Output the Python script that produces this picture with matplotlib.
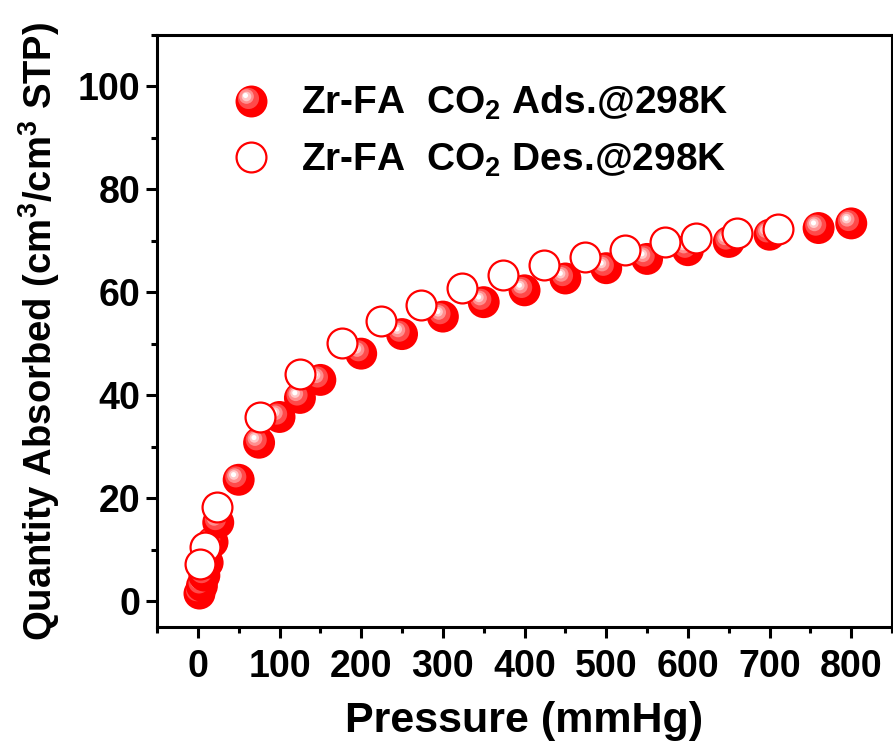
import matplotlib
matplotlib.use("Agg")
import matplotlib.pyplot as plt
from matplotlib.lines import Line2D
from matplotlib.legend_handler import HandlerBase
from matplotlib.transforms import offset_copy
from matplotlib.ticker import MultipleLocator

plt.rcParams["font.family"] = "Liberation Sans"
plt.rcParams["font.weight"] = "bold"
plt.rcParams["mathtext.fontset"] = "custom"
plt.rcParams["mathtext.rm"] = "Liberation Sans:bold"
plt.rcParams["mathtext.bf"] = "Liberation Sans:bold"
plt.rcParams["mathtext.default"] = "bf"

# CO2 isotherm of Zr-FA at 298 K
p_ads = [2, 5, 8, 12, 18, 25, 50, 75, 100, 125, 150, 200, 250, 300,
         350, 400, 450, 500, 550, 600, 650, 700, 760, 800]
q_ads = [1.5, 3.0, 5.0, 7.5, 11.5, 15.3, 23.6, 30.8, 35.8, 39.5, 43.0, 48.1, 51.9, 55.3,
         58.1, 60.4, 62.7, 64.7, 66.5, 68.2, 69.8, 71.2, 72.5, 73.4]

p_des = [710, 660, 610, 572, 523, 474, 424, 374, 323, 273, 224, 176, 125, 76, 23, 8.5, 2.4]
q_des = [72.3, 71.5, 70.5, 69.7, 68.3, 66.8, 65.3, 63.3, 60.8, 57.5, 54.4, 50.1, 44.2, 35.8, 18.4, 10.5, 7.2]

ads_label = "Zr-FA  CO$_2$ Ads.@298K"
des_label = "Zr-FA  CO$_2$ Des.@298K"

RED = "#FF0000"
D = 23.0  # marker diameter in points
# (fraction of diameter, colour, shift toward upper-left as fraction of radius)
layers = [(0.66, "#FF4a4a", 0.18), (0.46, "#FF8f8f", 0.26),
          (0.30, "#FFC8C8", 0.30), (0.16, "#FFFFFF", 0.32)]

fig = plt.figure(figsize=(8.93, 7.46), dpi=100)
ax = fig.add_axes([0.1758, 0.1595, 0.8232, 0.7936])

# adsorption: shaded spheres, drawn point by point
z = 2
for x, y in zip(p_ads, q_ads):
    ax.scatter([x], [y], s=D ** 2, color=RED, edgecolors="none", zorder=z)
    for frac, col, sh in layers:
        off = sh * D / 2
        tr = offset_copy(ax.transData, fig=fig, x=-off, y=off, units="points")
        ax.scatter([x], [y], s=(frac * D) ** 2, color=col, edgecolors="none",
                   transform=tr, zorder=z)
    z += 0.01

# desorption: open circles on top
ax.scatter(p_des, q_des, s=(D - 1.5) ** 2, facecolors="white", edgecolors=RED,
           linewidths=1.6, zorder=5)


class SphereHandler(HandlerBase):
    def create_artists(self, legend, orig_handle, xdescent, ydescent,
                       width, height, fontsize, trans):
        cx = width / 2 - xdescent
        cy = height / 2 - ydescent
        arts = [Line2D([cx], [cy], marker="o", ms=D, color=RED, mec="none",
                       linestyle="none", transform=trans)]
        for frac, col, sh in layers:
            off = sh * D / 2
            arts.append(Line2D([cx - off], [cy + off], marker="o", ms=frac * D,
                               color=col, mec="none", linestyle="none", transform=trans))
        return arts


h_ads = Line2D([], [], marker="o", color=RED, linestyle="none")
h_des = Line2D([], [], marker="o", ms=D - 1.5, mfc="white", mec=RED, mew=1.6,
               linestyle="none")
ax.legend([h_ads, h_des], [ads_label, des_label],
          handler_map={h_ads: SphereHandler()},
          loc="upper left", bbox_to_anchor=(0.048, 0.976), frameon=False,
          fontsize=28, handlelength=1.2, handletextpad=0.7, labelspacing=0.5)

ax.set_xlim(-50, 850)
ax.set_ylim(-5, 110)
ax.xaxis.set_major_locator(MultipleLocator(100))
ax.xaxis.set_minor_locator(MultipleLocator(50))
ax.yaxis.set_major_locator(MultipleLocator(20))
ax.yaxis.set_minor_locator(MultipleLocator(10))

for s in ax.spines.values():
    s.set_linewidth(2.2)
ax.tick_params(which="major", direction="out", length=8, width=2.2,
               labelsize=27, pad=8)
ax.tick_params(which="minor", direction="out", length=4.5, width=2.2)
ax.tick_params(axis="y", which="major", pad=4)

ax.set_xlabel("Pressure (mmHg)", fontsize=31, fontweight="bold", labelpad=11)
ax.set_ylabel("Quantity Absorbed (cm$^3$/cm$^3$ STP)", fontsize=27.5,
              fontweight="bold", labelpad=11)

fig.savefig("out.png", dpi=100)
